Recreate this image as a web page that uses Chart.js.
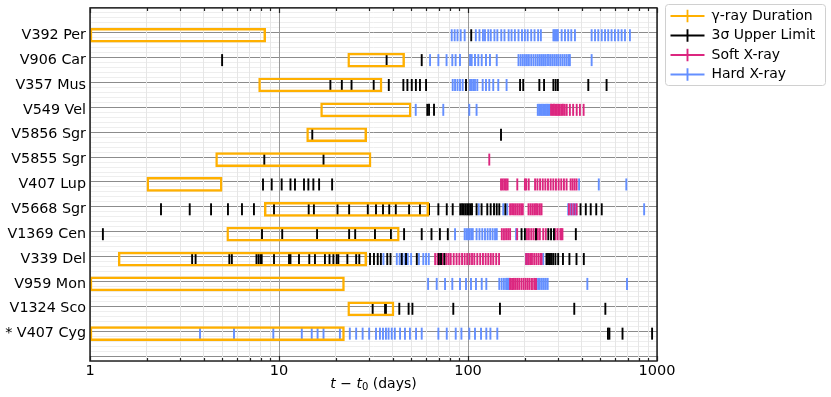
<!DOCTYPE html>
<html>
<head>
<meta charset="utf-8">
<script src="https://cdn.jsdelivr.net/npm/chart.js@4.4.1/dist/chart.umd.min.js"></script>
<style>
html, body { margin: 0; padding: 0; background: #fff; }
#wrap { width: 831px; height: 397px; }
</style>
</head>
<body>
<div id="wrap"><canvas id="novaChart"></canvas></div>
<script>
// Novae, top to bottom
var novae = ['V392 Per', 'V906 Car', 'V357 Mus', 'V549 Vel', 'V5856 Sgr', 'V5855 Sgr', 'V407 Lup',
  'V5668 Sgr', 'V1369 Cen', 'V339 Del', 'V959 Mon', 'V1324 Sco', '* V407 Cyg'];

// gamma-ray duration (days after t0)
var gammaStart = [1, 23.1, 7.8, 16.6, 14.0, 4.62, 2.0, 8.36, 5.29, 1.41, 1, 23.1, 1];
var gammaEnd = [8.5, 46.2, 35.1, 50, 29.1, 30.7, 5.0, 62, 43.3, 29.1, 22.2, 40.6, 22.2];

// 3 sigma upper limits
var upperLimits = [
  [104],
  [5.0, 37.1, 56.9],
  [18.7, 21.5, 24.2, 31.7, 38.1, 45.5, 47.8, 50.4, 53, 55.7, 60, 97.6, 188.6, 196, 238.5, 252.6, 283, 291, 299, 433, 541],
  [60.9, 62.2, 66.1],
  [15.0, 149.5],
  [8.36, 17.2],
  [8.23, 9.15, 10.33, 11.5, 12.15, 13.56, 14.3, 15.2, 16.3, 19.1],
  [2.375, 3.37, 4.37, 5.37, 6.37, 7.37, 9.41, 14.36, 15.3, 20.4, 23.5, 29.5, 32.6, 35.5, 38.3, 41.5, 48.8, 55.7, 62.2,
    69.7, 77.2, 83, 91, 93, 95, 97, 99, 101, 103, 105, 111, 118, 126.5, 131.8, 137.3, 141.9, 146.4, 157.6,
    394, 420, 446, 477, 510],
  [1.17, 8.13, 10.4, 15.9, 23.5, 25.3, 32.2, 39.1, 45.9, 56.9, 64.1, 71, 78.2, 192, 200, 229, 266, 275, 285, 372],
  [3.47, 3.62, 5.46, 5.63, 7.6, 7.8, 8.0, 8.1, 9.41, 11.3, 11.5, 12.76, 14.46, 15.5, 17.5, 18.5, 19.4, 20.2, 20.6,
    23, 25.6, 26.6, 28.9, 30.3, 31.8, 33.3, 34.6, 37.4, 38.9, 44.6, 47, 53.6, 70, 72, 75,
    260, 265, 270, 275, 282, 290, 300, 318, 344, 375, 410],
  [],
  [31.3, 36.4, 36.8, 43.3, 48.5, 50.8, 83.6, 147.6, 365, 533],
  [550, 560, 657, 942]
];

// soft X-ray detections
var softXray = [
  [],
  [],
  [],
  [275, 280, 285, 290, 295, 300, 306, 312, 318, 325, 333, 346, 360, 376, 391, 409],
  [],
  [129.6],
  [149.5, 152.5, 155.6, 158.8, 162, 182.3, 200, 203.3, 209.6, 226.4, 232.9, 240.6, 248.6, 256.6, 265, 273.8,
    282.8, 292, 301.8, 311.5, 321.8, 332.4, 349, 357.5, 366.4, 375.4],
  [167, 171, 175, 179, 183, 187, 191, 195, 209, 214, 219, 224, 229, 234, 240, 245, 342, 353, 365, 376],
  [151, 155, 159, 163, 167, 182, 205, 210, 216, 222, 228, 234, 240, 250, 258, 290, 298, 308, 312, 316],
  [67, 69, 71, 73, 75, 77, 79, 81, 84, 87, 90, 93, 96, 99, 102, 105, 108, 112, 116, 120, 124, 128, 132, 136, 141, 146,
    203, 208, 213, 218, 224, 230, 236, 242, 245],
  [167, 171, 175, 179, 183, 187, 192, 197, 202, 207, 212, 218, 224, 229],
  [],
  []
];

// hard X-ray detections
var hardXray = [
  [82, 85, 88, 91.5, 96, 110, 115, 120, 123, 128, 132, 138, 143, 150, 156, 164, 170, 177, 185, 193, 200, 207, 216,
    225, 235, 243, 283, 287, 291, 295, 299, 313, 326, 339, 352, 368, 451, 470, 489, 510, 531, 552, 575, 599, 624,
    650, 677, 719],
  [63, 69.7, 77, 82.6, 86, 90.7, 102.5, 104.6, 108.9, 113.4, 118.2, 124.5, 130.7, 141.9, 185, 190, 195, 200, 205,
    210, 216, 222, 228, 234, 240, 246, 252, 258, 265, 272, 279, 286, 293, 300, 308, 316, 324, 332, 340, 346, 451],
  [83, 85.4, 88, 90.7, 93.7, 102.5, 104.6, 106.7, 108.9, 112, 119.6, 124.5, 129.6, 136, 144.6, 160],
  [52.9, 74, 101.6, 111, 234, 238, 242, 246, 250, 254, 258, 262, 266, 270],
  [],
  [],
  [387, 492, 688],
  [114, 153.6, 161.3, 339, 349, 360, 372, 855],
  [85.4, 96, 98, 100, 102, 104, 106, 111, 115, 119, 123, 127, 131, 135, 139, 142, 179.6],
  [35.7, 42, 43.5, 45, 46.5, 48, 50, 55, 58, 60, 62, 203, 207, 250],
  [61.5, 68.3, 75.6, 82.6, 90.7, 97.6, 103.7, 110.2, 118.2, 125, 146.4, 150.7, 154.9, 159, 161, 163, 165,
    230, 235, 240, 246, 252, 258, 264, 428, 694],
  [],
  [3.82, 5.78, 9.33, 13.2, 14.9, 16.0, 17.2, 21.0, 23.7, 25.6, 27.7, 30.0, 32.6, 34.2, 35.5, 36.8, 38, 39.5, 41,
    43.7, 46.4, 49.3, 53.1, 56.9, 69.7, 77.2, 86.1, 92.3, 101.6, 108.9, 117.2, 125, 131.4, 142.9]
];

var xTickLabels = [1, 10, 100, 1000];
var seriesNames = ['\u03b3-ray Duration', '3\u03c3 Upper Limit', 'Soft X-ray', 'Hard X-ray'];

var ORANGE = '#FFB000', BLACK = '#000000', PINK = '#DC267F', BLUE = '#648FFF';

function toPoints(rows) {
  var pts = [];
  rows.forEach(function (days, i) {
    days.forEach(function (d) { pts.push({ x: d, y: i }); });
  });
  return pts;
}

function tickSet(label, rows, color) {
  return {
    type: 'scatter',
    label: label,
    data: toPoints(rows),
    pointStyle: 'line',
    rotation: 90,
    radius: 6,
    hoverRadius: 6,
    borderWidth: 1.9,
    borderColor: color,
    backgroundColor: color
  };
}

Chart.defaults.font.family = 'DejaVu Sans';
Chart.defaults.color = '#000';

var LEGEND_WIDTH = 174;

// frame, inward ticks, legend box and axis title
var decor = {
  id: 'decor',
  beforeLayout: function (chart) {
    var lg = chart.legend;
    if (!lg || lg._widened) return;
    lg._widened = true;
    var fit = lg.fit, draw = lg.draw;
    lg.fit = function () { fit.call(this); this.width = LEGEND_WIDTH; };
    lg.draw = function () {
      this.ctx.save();
      this.ctx.translate(8, -1.5);
      draw.apply(this, arguments);
      this.ctx.restore();
    };
  },
  beforeDraw: function (chart) {
    var lg = chart.legend, ctx = chart.ctx;
    if (!lg) return;
    ctx.save();
    ctx.fillStyle = '#fff';
    ctx.strokeStyle = '#d0d0d0';
    ctx.lineWidth = 1;
    ctx.beginPath();
    ctx.roundRect(lg.left + 8.5, 4.5, 160, 81, 3);
    ctx.fill();
    ctx.stroke();
    ctx.restore();
  },
  afterDraw: function (chart) {
    var ctx = chart.ctx, a = chart.chartArea, xs = chart.scales.x;
    ctx.save();
    ctx.strokeStyle = '#222';
    ctx.lineWidth = 1.2;
    xs.ticks.forEach(function (t) {
      var px = Math.round(xs.getPixelForValue(t.value)) + 0.5;
      var len = t.major ? 5 : 3;
      ctx.beginPath();
      ctx.moveTo(px, a.bottom); ctx.lineTo(px, a.bottom - len);
      ctx.moveTo(px, a.top); ctx.lineTo(px, a.top + len);
      ctx.stroke();
    });
    ctx.strokeStyle = '#222';
    ctx.lineWidth = 1.5;
    ctx.strokeRect(a.left, a.top, a.right - a.left, a.bottom - a.top);

    // axis title: t - t0 (days)
    var parts = [
      { s: 't', f: 'italic 14px DejaVu Sans', dy: 0 },
      { s: ' \u2212 ', f: '14px DejaVu Sans', dy: 0 },
      { s: 't', f: 'italic 14px DejaVu Sans', dy: 0 },
      { s: '0', f: '10px DejaVu Sans', dy: 3 },
      { s: ' (days)', f: '14px DejaVu Sans', dy: 0 }
    ];
    var total = 0;
    parts.forEach(function (p) { ctx.font = p.f; p.w = ctx.measureText(p.s).width; total += p.w; });
    var x = (a.left + a.right) / 2 - total / 2, y = 384;
    ctx.fillStyle = '#000';
    ctx.textBaseline = 'middle';
    parts.forEach(function (p) { ctx.font = p.f; ctx.fillText(p.s, x, y + p.dy); x += p.w; });
    ctx.restore();
  }
};

var ctx = document.getElementById('novaChart').getContext('2d');
var novaChart = new Chart(ctx, {
  type: 'scatter',
  data: {
    datasets: [
      {
        type: 'bar',
        label: seriesNames[0],
        indexAxis: 'y',
        data: novae.map(function (n, i) { return { y: i, x: [gammaStart[i], gammaEnd[i]] }; }),
        barThickness: 14,
        borderWidth: 1.8,
        borderSkipped: false,
        borderColor: ORANGE,
        backgroundColor: 'rgba(0,0,0,0)'
      },
      tickSet(seriesNames[1], upperLimits, BLACK),
      tickSet(seriesNames[2], softXray, PINK),
      tickSet(seriesNames[3], hardXray, BLUE)
    ]
  },
  options: {
    responsive: true,
    maintainAspectRatio: false,
    animation: false,
    layout: { padding: { top: 5, left: 0, right: 0, bottom: 0 } },
    plugins: {
      tooltip: { enabled: false },
      legend: {
        position: 'right',
        align: 'start',
        labels: {
          usePointStyle: true,
          pointStyle: 'cross',
          pointStyleWidth: 34,
          boxHeight: 9,
          padding: 5.5,
          font: { size: 14 },
          color: '#000'
        }
      }
    },
    scales: {
      x: {
        type: 'logarithmic',
        min: 1,
        max: 1000,
        afterBuildTicks: function (scale) {
          var t = [];
          [1, 10, 100].forEach(function (d) {
            for (var k = 1; k <= 9; k++) t.push({ value: k * d, major: k === 1 });
          });
          t.push({ value: 1000, major: true });
          scale.ticks = t;
        },
        afterFit: function (scale) {
          scale.height = 36;
          scale.paddingLeft = 0;
          scale.paddingRight = 0;
        },
        ticks: {
          autoSkip: false,
          maxRotation: 0,
          padding: 2,
          font: { size: 14.5 },
          color: '#000',
          callback: function (v) { return xTickLabels.indexOf(v) >= 0 ? String(v) : ''; }
        },
        grid: {
          z: -1,
          drawTicks: false,
          color: function (c) { return c.tick && xTickLabels.indexOf(c.tick.value) >= 0 ? '#999999' : '#e6e6e6'; },
          lineWidth: 1
        },
        border: { display: false }
      },
      y: {
        type: 'linear',
        min: -1,
        max: 13,
        reverse: true,
        afterBuildTicks: function (scale) {
          var t = [];
          for (var i = 0; i <= 70; i++) t.push({ value: Math.round((-1 + i * 0.2) * 10) / 10 });
          scale.ticks = t;
        },
        afterFit: function (scale) {
          scale.width = 90;
          scale.paddingTop = 0;
          scale.paddingBottom = 0;
        },
        ticks: {
          autoSkip: false,
          padding: 4,
          font: { size: 14.3 },
          color: '#000',
          callback: function (v) { return Number.isInteger(v) && v >= 0 && v < novae.length ? novae[v] : ''; }
        },
        grid: {
          z: -2,
          drawTicks: false,
          color: function (c) { return c.tick && Number.isInteger(c.tick.value) ? '#8c8c8c' : '#eeeeee'; },
          lineWidth: 1
        },
        border: { display: false }
      }
    }
  },
  plugins: [decor]
});
</script>
</body>
</html>
